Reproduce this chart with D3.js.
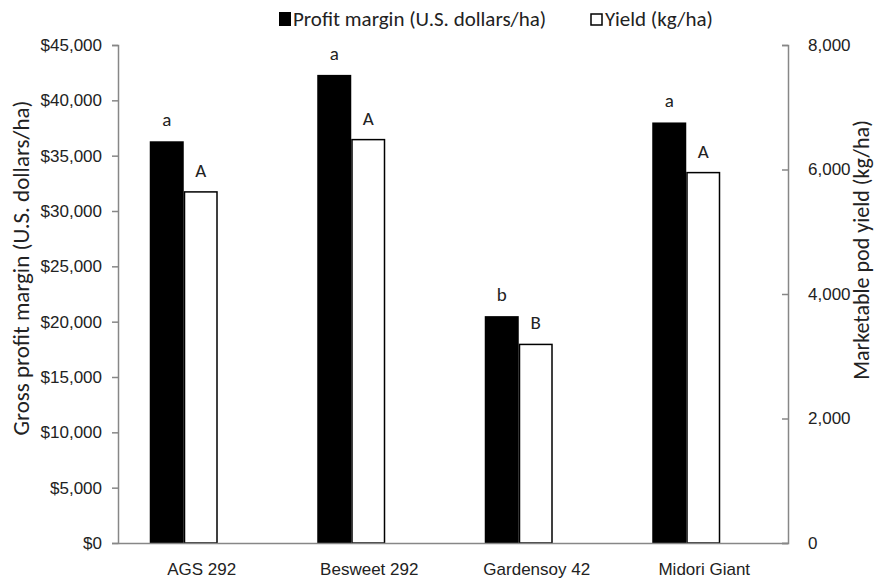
<!DOCTYPE html>
<html>
<head>
<meta charset="utf-8">
<script src="https://cdn.jsdelivr.net/npm/d3@7"></script>
<style>
  body { margin: 0; background: #fff; }
  svg { display: block; font-family: Carlito, Lato, sans-serif; }
  .tick text { fill: #222; }
</style>
</head>
<body>
<div id="vis"></div>
<script>
const varieties = ['AGS 292', 'Besweet 292', 'Gardensoy 42', 'Midori Giant']
const profit = [36300, 42300, 20500, 38000]
const yieldKg = [5640, 6480, 3190, 5950]
const profitLetters = ['a', 'a', 'b', 'a']
const yieldLetters = ['A', 'A', 'B', 'A']
const profitTicks = [0, 5000, 10000, 15000, 20000, 25000, 30000, 35000, 40000, 45000]
const yieldTicks = [0, 2000, 4000, 6000, 8000]

;(function() {
  const svg_width = 879,
        svg_height = 578,
        left = 118, right = 788, top = 45, bottom = 543,
        svg = d3.select('#vis').append('svg')

  svg.attr('width', svg_width)
    .attr('height', svg_height)

  const x0 = d3.scaleBand().domain(varieties).range([left, right])
  const bw = x0.bandwidth()
  // bars sit left of the band centre, two slots of a three-slot group
  const x1 = d3.scaleBand().domain(['profit', 'yield']).range([bw / 2 - 52, bw / 2 + 16])

  const yL = d3.scaleLinear().domain([0, 45000]).range([bottom, top])
  const yR = d3.scaleLinear().domain([0, 8000]).range([bottom, top])

  const rows = varieties.map((v, i) => ({
    v, profit: profit[i], yld: yieldKg[i], pl: profitLetters[i], yl: yieldLetters[i]
  }))

  // bars
  const g = svg.append('g')
  g.selectAll('rect.profit').data(rows).join('rect')
    .attr('class', 'profit')
    .attr('x', d => x0(d.v) + x1('profit'))
    .attr('y', d => yL(d.profit))
    .attr('width', x1.bandwidth())
    .attr('height', d => bottom - yL(d.profit))
    .attr('fill', '#000')

  g.selectAll('rect.yld').data(rows).join('rect')
    .attr('class', 'yld')
    .attr('x', d => x0(d.v) + x1('yield') + 0.75)
    .attr('y', d => yR(d.yld))
    .attr('width', x1.bandwidth() - 1.5)
    .attr('height', d => bottom - yR(d.yld))
    .attr('fill', '#fff')
    .attr('stroke', '#000')
    .attr('stroke-width', 1.5)

  // letters
  g.selectAll('text.pl').data(rows).join('text')
    .attr('class', 'pl')
    .attr('x', d => x0(d.v) + x1('profit') + x1.bandwidth() / 2)
    .attr('y', d => yL(d.profit) - 15)
    .attr('text-anchor', 'middle')
    .attr('font-size', 19)
    .attr('fill', '#222')
    .text(d => d.pl)

  g.selectAll('text.yl').data(rows).join('text')
    .attr('class', 'yl')
    .attr('x', d => x0(d.v) + x1('yield') + x1.bandwidth() / 2)
    .attr('y', d => yR(d.yld) - 15)
    .attr('text-anchor', 'middle')
    .attr('font-size', 19)
    .attr('fill', '#222')
    .text(d => d.yl)

  // axes
  const axL = svg.append('g')
    .attr('transform', `translate(${left},0)`)
    .call(d3.axisLeft(yL).tickValues(profitTicks).tickSize(6).tickPadding(10)
      .tickFormat(d => '$' + d3.format(',')(d)))
  axL.selectAll('text').attr('font-size', 17)

  const axR = svg.append('g')
    .attr('transform', `translate(${right},0)`)
    .call(d3.axisRight(yR).tickValues(yieldTicks).tickSize(-6).tickPadding(20)
      .tickFormat(d3.format(',')))
  axR.selectAll('text').attr('font-size', 17)

  const axB = svg.append('g')
    .attr('transform', `translate(0,${bottom})`)
    .call(d3.axisBottom(x0).tickSize(0).tickPadding(20))
  axB.selectAll('text').attr('font-size', 17)

  svg.selectAll('.domain, .tick line').attr('stroke', '#878787').attr('stroke-width', 1.5)

  // titles
  svg.append('text')
    .attr('transform', 'translate(29,268) rotate(-90)')
    .attr('text-anchor', 'middle')
    .attr('font-size', 23)
    .attr('fill', '#222')
    .text('Gross profit margin (U.S. dollars/ha)')

  svg.append('text')
    .attr('transform', 'translate(869,250) rotate(-90)')
    .attr('text-anchor', 'middle')
    .attr('font-size', 22)
    .attr('fill', '#222')
    .text('Marketable pod yield  (kg/ha)')

  // legend
  const leg = svg.append('g')
  leg.append('rect')
    .attr('x', 279).attr('y', 12).attr('width', 12).attr('height', 14)
    .attr('fill', '#000')
  leg.append('text')
    .attr('x', 293).attr('y', 26)
    .attr('font-size', 21).attr('fill', '#222')
    .text('Profit margin (U.S. dollars/ha)')
  leg.append('rect')
    .attr('x', 591).attr('y', 14).attr('width', 11).attr('height', 11)
    .attr('fill', '#fff').attr('stroke', '#000').attr('stroke-width', 1.5)
  leg.append('text')
    .attr('x', 605).attr('y', 26)
    .attr('font-size', 21).attr('fill', '#222')
    .text('Yield (kg/ha)')
}())
</script>
</body>
</html>
